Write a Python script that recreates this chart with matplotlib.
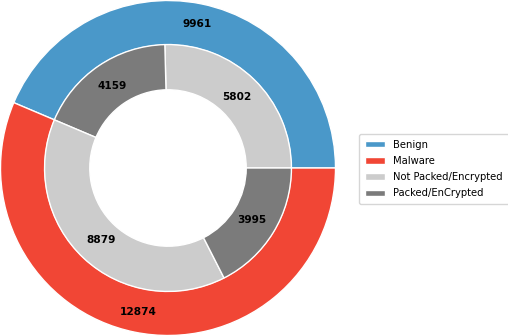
import matplotlib
matplotlib.use("Agg")
import matplotlib.pyplot as plt
import numpy as np

outer_labels = ["Benign", "Malware"]
outer_values = [9961, 12874]
inner_labels = ["Not Packed/Encrypted", "Packed/EnCrypted"]
inner_values = [5802, 4159, 8879, 3995]

outer_colors = ["#4a98c9", "#f14635"]
inner_colors = ["#cccccc", "#7b7b7b", "#cccccc", "#7b7b7b"]

fig = plt.figure(figsize=(5.08, 3.36), dpi=100)
ax = fig.add_axes([0, 0, 336 / 508, 1])

R = 1.0
w_out = 0.265
r_in = 0.737
w_in = 0.27

outer, _ = ax.pie(outer_values, radius=R, colors=outer_colors, startangle=0,
                  counterclock=True,
                  wedgeprops=dict(width=w_out, edgecolor="white", linewidth=1))
inner, _ = ax.pie(inner_values, radius=r_in, colors=inner_colors, startangle=0,
                  counterclock=True,
                  wedgeprops=dict(width=w_in, edgecolor="white", linewidth=1))


def put_labels(wedges, values, dist):
    for w, v in zip(wedges, values):
        ang = np.deg2rad((w.theta1 + w.theta2) / 2)
        ax.text(dist * np.cos(ang), dist * np.sin(ang), str(v),
                ha="center", va="center", fontsize=7.6, fontweight="bold",
                color="black")

put_labels(outer, outer_values, 0.88)
put_labels(inner, inner_values, 0.59)

ax.set_xlim(-1.003, 1.003)
ax.set_ylim(-1.003, 1.003)
ax.set_aspect("equal")
ax.axis("off")

fig.legend([outer[0], outer[1], inner[0], inner[1]],
           outer_labels + inner_labels,
           loc="center left", bbox_to_anchor=(0.697, 0.497),
           fontsize=7.2, frameon=True, handlelength=2.0, handleheight=0.6,
           labelspacing=0.62, borderpad=0.6, fancybox=True)

fig.savefig("out.png", dpi=100)
